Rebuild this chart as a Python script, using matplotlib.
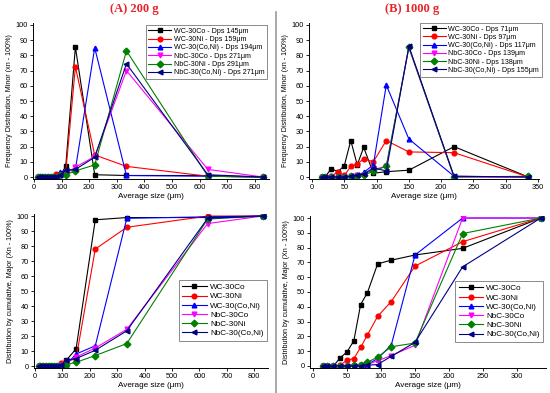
import numpy as np
import matplotlib
matplotlib.use('Agg')
import matplotlib.pyplot as plt
from matplotlib.lines import Line2D

plt.rcParams['font.family'] = ['Liberation Sans', 'DejaVu Sans']

# ── Data ──────────────────────────────────────────────────────────────────────
names = ['WC-30Co', 'WC-30Ni', 'WC-30(Co,Ni)', 'NbC-30Co', 'NbC-30Ni', 'NbC-30(Co,Ni)']
dps_a = [145, 159, 194, 271, 291, 271]
dps_b = [71, 97, 117, 139, 138, 155]

x_a = [15, 20, 30, 40, 50, 60, 70, 80, 95, 115, 150, 220, 335, 630, 830]
x_b = [15, 20, 30, 40, 50, 60, 70, 80, 95, 115, 150, 220, 335]

freq_a = [
    [0, 0, 0, 0, 0, 0, 0, 0, 1, 7, 85.5, 1.5, 1, 1, 0],
    [0, 0, 0, 0, 0, 0, 0, 2, 2, 3, 72.5, 14.5, 7, 0.5, 0],
    [0, 0, 0, 0, 0, 0, 0, 0, 3, 4, 5, 85, 1, 0.5, 0],
    [0, 0, 0, 0, 0, 0, 0, 0, 0.5, 2, 6.5, 13.5, 70, 5, 0],
    [0, 0, 0, 0, 0, 0, 0, 0, 1, 1.5, 4, 8, 83, 0.5, 0],
    [0, 0, 0, 0, 0, 0, 0, 0, 1, 4.5, 5, 13, 74.5, 1.5, 0],
]
cum_a = [
    [0, 0, 0, 0, 0, 0, 0, 0, 1, 4, 11.5, 97.5, 99, 99, 100],
    [0, 0, 0, 0, 0, 0, 0, 0, 2, 3, 5, 78, 92.5, 100, 100],
    [0, 0, 0, 0, 0, 0, 0, 0, 0.5, 1, 8, 13.5, 98.5, 99.5, 100],
    [0, 0, 0, 0, 0, 0, 0, 0, 0.5, 3, 6, 12, 24.5, 95, 100],
    [0, 0, 0, 0, 0, 0, 0, 0, 0, 1, 2.5, 7, 15, 98, 100],
    [0, 0, 0, 0, 0, 0, 0, 0, 0.5, 4, 5, 10.5, 23.5, 98.5, 100],
]
freq_b = [
    [0, 0, 5.5, 3.5, 7.5, 24, 8, 19.5, 2.5, 3.5, 4.5, 20, 0],
    [0, 0, 0.5, 3.5, 1, 7, 8.5, 12, 10, 24, 16.5, 16, 0],
    [0, 0, 0, 0, 0, 0.5, 1, 3, 8, 60.5, 25, 0.5, 0],
    [0, 0, 0, 0, 0, 0.5, 1, 1.5, 5, 7, 85, 0, 0],
    [0, 0, 0, 0, 0, 0.5, 0.5, 1, 4, 7, 85.5, 0, 0.5],
    [0, 0, 0, 0, 0, 0.5, 1, 2, 6, 4, 86, 0.5, 0],
]
cum_b = [
    [0, 0, 0, 5.5, 9.5, 17, 41.5, 49.5, 69, 71.5, 75, 79.5, 100],
    [0, 0, 0, 0.5, 4, 5, 12.5, 21, 33.5, 43.5, 67.5, 84, 100],
    [0, 0, 0, 0, 0, 0, 0.5, 1, 5, 14, 75, 100, 100],
    [0, 0, 0, 0, 0, 0, 0.5, 1, 3.5, 7, 14, 100, 100],
    [0, 0, 0, 0, 0, 0.5, 1, 2.5, 6, 13, 15.5, 89.5, 100],
    [0, 0, 0, 0, 0, 0, 0, 0.5, 1, 6.5, 16, 67, 100],
]

# ── Styles ────────────────────────────────────────────────────────────────────
colors  = ['#000000', '#FF0000', '#0000FF', '#FF00FF', '#008000', '#000080']
markers = ['s', 'o', '^', 'v', 'D', '<']
W, H = 550, 393

fig = plt.figure(figsize=(5.5, 3.93), dpi=100)
fig.patch.set_facecolor('white')


def px_axes(x0, x1, ytop, ybot):
    return fig.add_axes([x0 / W, 1 - ybot / H, (x1 - x0) / W, (ybot - ytop) / H])


def style(ax, xlim, xstep, ylabel):
    ax.set_xlim(*xlim)
    ax.set_ylim(-1.5, 101.5)
    ax.set_xticks(np.arange(0, xlim[1] + 1, xstep))
    ax.set_yticks(np.arange(0, 101, 10))
    ax.tick_params(labelsize=5.3, length=2, width=0.6, pad=1.5)
    ax.spines[['top', 'right']].set_visible(False)
    for s in ['left', 'bottom']:
        ax.spines[s].set_linewidth(0.7)
    ax.set_xlabel('Average size (μm)', fontsize=5.9, labelpad=1.5)
    ax.set_ylabel(ylabel, fontsize=5.1, labelpad=2)


def draw(ax, x, data, labels):
    for i, y in enumerate(data):
        ax.plot(x, y, color=colors[i], marker=markers[i], markersize=3.4,
                linewidth=0.8, label=labels[i])


def add_legend(ax, anchor, size, hl):
    leg = ax.legend(loc='upper right', bbox_to_anchor=anchor, fontsize=size,
                    frameon=True, fancybox=False, edgecolor='#555555',
                    borderaxespad=0, handlelength=hl, handletextpad=0.4,
                    labelspacing=0.18, borderpad=0.4)
    leg.get_frame().set_linewidth(0.6)


ylab_f = 'Frequency Distribution, Minor (xn - 100%)'
ylab_c = 'Distribution by cumulative, Major (Xn - 100%)'

# top-left (A) frequency
ax1 = px_axes(32.6, 268.6, 22.7, 179.3)
draw(ax1, x_a, freq_a, [f'{n} - Dps {d}μm' for n, d in zip(names, dps_a)])
style(ax1, (-5, 850), 100, ylab_f)
add_legend(ax1, (0.995, 0.985), 5.1, 3.2)

# top-right (B) frequency
ax2 = px_axes(308.8, 539.3, 22.7, 179.3)
draw(ax2, x_b, freq_b, [f'{n} - Dps {d}μm' for n, d in zip(names, dps_b)])
style(ax2, (-5, 352), 50, ylab_f)
add_legend(ax2, (1.012, 1.0), 5.1, 3.2)

# bottom-left (A) cumulative
ax3 = px_axes(33.6, 268, 213.8, 368.3)
draw(ax3, x_a, cum_a, names)
style(ax3, (-5, 850), 100, ylab_c)
add_legend(ax3, (0.995, 0.57), 5.9, 3.0)

# bottom-right (B) cumulative
ax4 = px_axes(309.6, 545.6, 215.8, 368.2)
draw(ax4, x_b, cum_b, names)
style(ax4, (-5, 342), 50, ylab_c)
ax4.set_xticks(np.arange(0, 301, 50))
add_legend(ax4, (0.99, 0.57), 5.9, 3.0)

# panel titles and separator
fig.text(134 / W, 1 - 9 / H, '(A) 200 g', ha='center', va='center', fontsize=9,
         fontweight='bold', color='#E8232A', family='Liberation Serif')
fig.text(412 / W, 1 - 9 / H, '(B) 1000 g', ha='center', va='center', fontsize=9,
         fontweight='bold', color='#E8232A', family='Liberation Serif')
fig.add_artist(Line2D([276 / W, 276 / W], [0, 1 - 12 / H], color='#999999',
                      linewidth=1.2, transform=fig.transFigure))

plt.savefig('out.png', dpi=100, facecolor='white')
